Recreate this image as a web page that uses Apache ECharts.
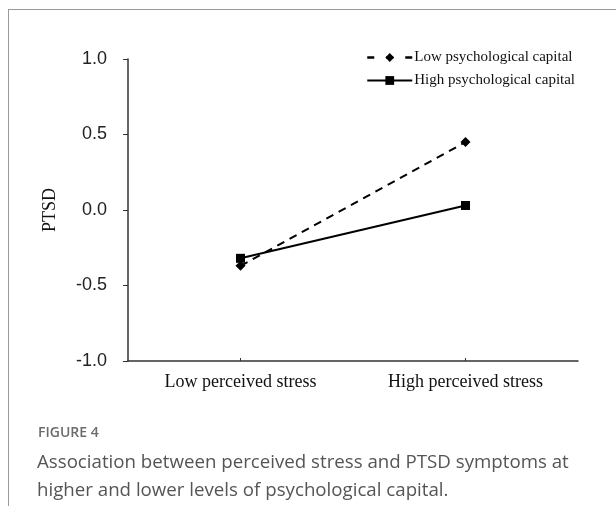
<!DOCTYPE html>
<html>
<head>
<meta charset="utf-8">
<script src="https://cdn.jsdelivr.net/npm/echarts@6/dist/echarts.min.js"></script>
<style>
html,body{margin:0;padding:0;background:#fff;}
#c{width:616px;height:506px;}
</style>
</head>
<body>
<div id="c"></div>
<script>
var categories = ['Low perceived stress', 'High perceived stress'];
var lowPsyCap = [-0.37, 0.45];
var highPsyCap = [-0.32, 0.03];
var yTicks = [-1.0, -0.5, 0.0, 0.5, 1.0];
var seriesNames = ['Low psychological capital', 'High psychological capital'];

var chart = echarts.init(document.getElementById('c'), null, {renderer: 'canvas'});
chart.setOption({
  animation: false,
  backgroundColor: '#fff',
  title: [{
    text: 'FIGURE 4',
    left: 33, top: 421,
    textStyle: {fontFamily: 'Open Sans', fontSize: 14, fontWeight: 600, color: '#6b6b6b'}
  }, {
    text: 'Association between perceived stress and PTSD symptoms at\nhigher and lower levels of psychological capital.',
    left: 32, top: 444,
    textStyle: {fontFamily: 'Open Sans', fontSize: 18.7, fontWeight: 'normal', color: '#555', lineHeight: 28}
  }],
  graphic: [
    {type: 'line', shape: {x1: 8, y1: 9.5, x2: 616, y2: 9.5}, style: {stroke: '#999', lineWidth: 1}},
    {type: 'line', shape: {x1: 8.5, y1: 9, x2: 8.5, y2: 506}, style: {stroke: '#999', lineWidth: 1}}
  ],
  legend: {
    orient: 'vertical',
    left: 361, top: 45,
    itemWidth: 45, itemHeight: 11, itemGap: 8,
    lineStyle: {width: 2},
    textStyle: {fontFamily: 'Liberation Serif', fontSize: 15, color: '#111', padding: [0,0,0,-3]},
    data: [
      {name: seriesNames[0], lineStyle: {type: [7, 12], width: 2.5}},
      {name: seriesNames[1]}
    ]
  },
  grid: {left: 128, right: 38, top: 59, bottom: 145},
  xAxis: {
    type: 'category',
    data: categories,
    boundaryGap: true,
    axisLine: {onZero: false, lineStyle: {color: '#333', width: 1.5}},
    axisTick: {show: true, inside: true, alignWithLabel: true, length: 3, lineStyle: {color: '#333'}},
    axisLabel: {fontFamily: 'Liberation Serif', fontSize: 18, color: '#111', margin: 12}
  },
  yAxis: {
    type: 'value',
    min: yTicks[0], max: yTicks[yTicks.length - 1], interval: 0.5,
    name: 'PTSD', nameLocation: 'middle', nameRotate: 90, nameGap: 69,
    nameTextStyle: {fontFamily: 'Liberation Serif', fontSize: 18, color: '#111'},
    axisLine: {show: true, lineStyle: {color: '#333', width: 1.5}},
    axisTick: {show: true, length: 5, lineStyle: {color: '#333'}},
    splitLine: {show: false},
    axisLabel: {fontFamily: 'Liberation Sans', fontSize: 18, color: '#222', margin: 21,
      formatter: function (v) { return v.toFixed(1); }}
  },
  series: [{
    name: seriesNames[0],
    type: 'line',
    data: lowPsyCap,
    symbol: 'diamond', symbolSize: 10,
    itemStyle: {color: '#000'},
    lineStyle: {color: '#000', width: 2, type: [8, 6]}
  }, {
    name: seriesNames[1],
    type: 'line',
    data: highPsyCap,
    symbol: 'rect', symbolSize: 9,
    itemStyle: {color: '#000'},
    lineStyle: {color: '#000', width: 2}
  }]
});
</script>
</body>
</html>
